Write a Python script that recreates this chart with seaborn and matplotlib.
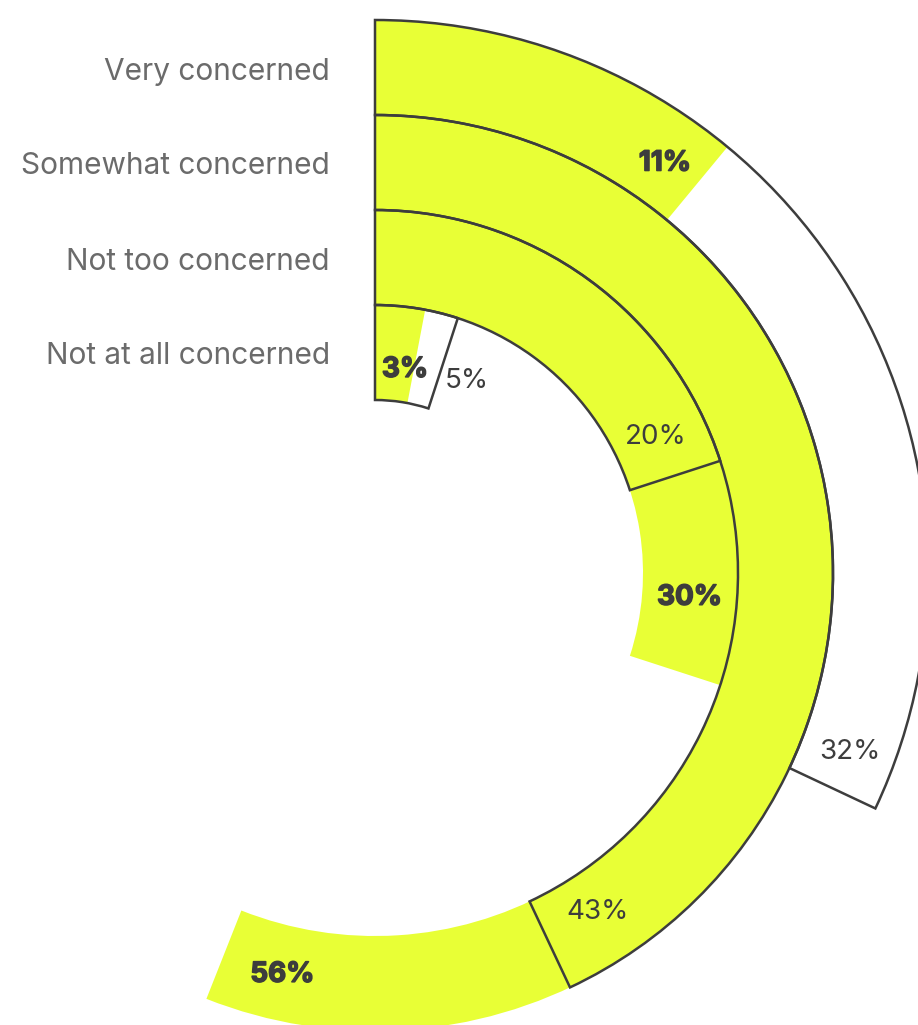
import numpy as np
import matplotlib
matplotlib.use("Agg")
import matplotlib.pyplot as plt
import matplotlib.patheffects as pe
import seaborn as sns

# Survey answers, outer ring first
categories = ["Very concerned", "Somewhat concerned", "Not too concerned", "Not at all concerned"]
filled_pct = [11, 56, 30, 3]     # solid yellow series (bold labels)
outline_pct = [32, 43, 20, 5]    # outlined series (regular labels)

# Label placement: degrees back from the bar end, radial nudge in ring widths
fill_label_back = [4.3, 8.6, 13.5, 2.4]
fill_label_nudge = [-0.04, 0.02, 0.0, -0.16]
outline_label_back = [4.6, 8.1, 7.8, -7.6]
outline_label_nudge = [0.02, -0.05, -0.04, -0.08]

YELLOW = "#E8FF36"
DARK = "#3d3d3d"
GRAY = "#6b6b6b"

sns.set_theme(style="white")
plt.rcParams["font.family"] = ["Inter", "DejaVu Sans"]

W, H, DPI = 918, 1025, 100
fig = plt.figure(figsize=(W / DPI, H / DPI), dpi=DPI)
fig.patch.set_facecolor("white")

ring_px = 95.0                 # one ring width in pixels
hole = 173.0 / ring_px         # empty centre, in ring widths
cx, cy = 375, 573              # centre of the rings in pixels
rax = 560.0                    # axes radius in pixels (a little room for the outer edge)
ax = fig.add_axes([(cx - rax) / W, (H - cy - rax) / H, 2 * rax / W, 2 * rax / H],
                  projection="polar")
ax.set_theta_zero_location("N")
ax.set_theta_direction(-1)
ax.set_ylim(0, rax / ring_px)
ax.axis("off")

# heavier weight for the solid-series numbers
heavy = [pe.withStroke(linewidth=1.1, foreground=DARK)]

n = len(categories)
for i, cat in enumerate(categories):
    base = hole + (n - 1 - i)
    t_out = 2 * np.pi * outline_pct[i] / 100
    t_fill = 2 * np.pi * filled_pct[i] / 100
    ax.bar(0, 1, width=t_out, bottom=base, align="edge", color="white",
           edgecolor="none", zorder=1)
    ax.bar(0, 1, width=t_fill, bottom=base, align="edge", color=YELLOW,
           edgecolor="none", zorder=2)
    ax.bar(0, 1, width=t_out, bottom=base, align="edge", facecolor="none",
           edgecolor=DARK, linewidth=1.8, zorder=3, clip_on=False)

    # category name to the left of the ring start
    ax.annotate(cat, xy=(0, base + 0.5), xycoords="data",
                xytext=(-45 * 72 / DPI, -4 * 72 / DPI), textcoords="offset points",
                ha="right", va="center", fontsize=21.5, color=GRAY)

    # value labels
    ax.text(t_fill - np.deg2rad(fill_label_back[i]), base + 0.5 + fill_label_nudge[i],
            f"{filled_pct[i]}%", ha="center", va="center", fontsize=20,
            fontweight="bold", color=DARK, zorder=5, path_effects=heavy)
    ax.text(t_out - np.deg2rad(outline_label_back[i]), base + 0.5 + outline_label_nudge[i],
            f"{outline_pct[i]}%", ha="center", va="center", fontsize=20,
            color=DARK, zorder=5)

fig.savefig("out.png", dpi=DPI, facecolor="white")
